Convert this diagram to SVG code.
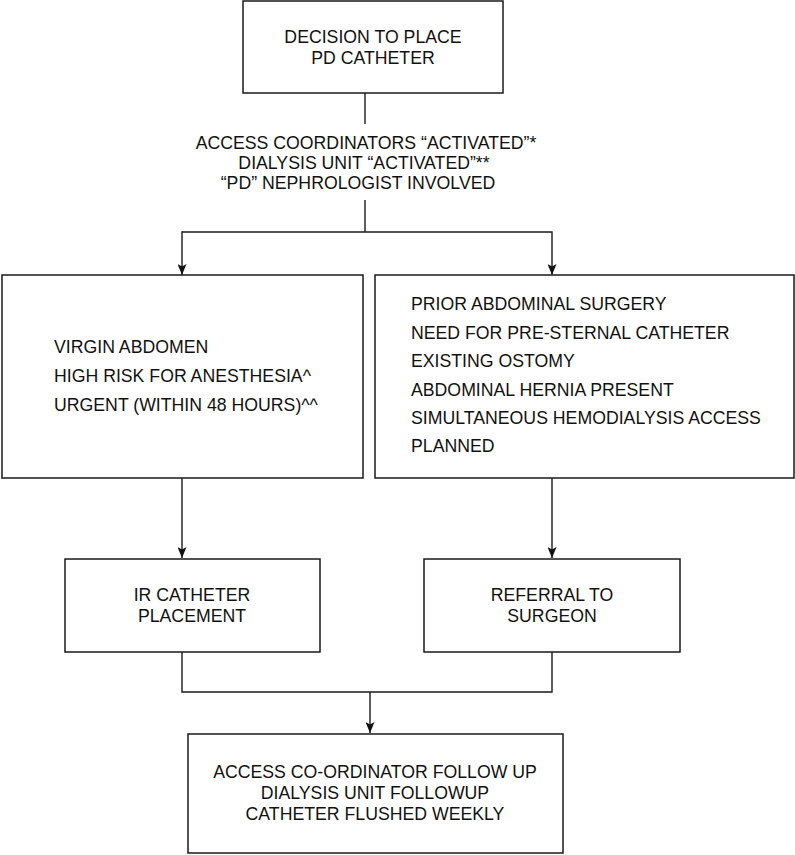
<svg xmlns="http://www.w3.org/2000/svg" width="795" height="855" viewBox="0 0 795 855">
  <style>
    .box { fill: #ffffff; stroke: #1a1a1a; stroke-width: 1.5; }
    .conn { fill: none; stroke: #1a1a1a; stroke-width: 1.4; }
    .t { font-family: "Liberation Sans", Arial, Helvetica, sans-serif; font-size: 17.7px; fill: #111111; }
    .c { text-anchor: middle; }
  </style>
  <defs>
    <marker id="arrow" markerUnits="userSpaceOnUse" viewBox="0 0 11 9" refX="11" refY="4.5" markerWidth="11" markerHeight="9" orient="auto">
      <path d="M0,0 L11,4.5 L0,9 L2.5,4.5 Z" fill="#111111"/>
    </marker>
  </defs>
  <rect width="795" height="855" fill="#ffffff"/>

  <g id="connectors">
    <line class="conn" x1="365" y1="93" x2="365" y2="124"/>
    <line class="conn" x1="365" y1="200" x2="365" y2="232"/>
    <polyline class="conn" points="182,232 552,232 552,275" marker-end="url(#arrow)"/>
    <line class="conn" x1="182" y1="231.3" x2="182" y2="275" marker-end="url(#arrow)"/>
    <line class="conn" x1="182" y1="478" x2="182" y2="558" marker-end="url(#arrow)"/>
    <line class="conn" x1="552" y1="478" x2="552" y2="558" marker-end="url(#arrow)"/>
    <polyline class="conn" points="182,652 182,692 552,692 552,652"/>
    <line class="conn" x1="370" y1="692" x2="370" y2="733" marker-end="url(#arrow)"/>
  </g>

  <g id="decision">
    <rect class="box" x="243" y="1" width="260" height="92"/>
    <text class="t c" x="373" y="43">DECISION TO PLACE</text>
    <text class="t c" x="373" y="64">PD CATHETER</text>
  </g>

  <g id="activation">
    <text class="t c" x="366" y="149">ACCESS COORDINATORS “ACTIVATED”*</text>
    <text class="t c" x="364" y="169">DIALYSIS UNIT “ACTIVATED”**</text>
    <text class="t c" x="358" y="189">“PD” NEPHROLOGIST INVOLVED</text>
  </g>

  <g id="virgin">
    <rect class="box" x="2" y="275" width="361" height="203"/>
    <text class="t" x="54" y="353">VIRGIN ABDOMEN</text>
    <text class="t" x="54" y="382">HIGH RISK FOR ANESTHESIA^</text>
    <text class="t" x="54" y="411">URGENT (WITHIN 48 HOURS)^^</text>
  </g>

  <g id="prior">
    <rect class="box" x="375" y="275" width="419" height="203"/>
    <text class="t" x="411" y="310">PRIOR ABDOMINAL SURGERY</text>
    <text class="t" x="411" y="338.5">NEED FOR PRE-STERNAL CATHETER</text>
    <text class="t" x="411" y="367">EXISTING OSTOMY</text>
    <text class="t" x="411" y="395.5">ABDOMINAL HERNIA PRESENT</text>
    <text class="t" x="411" y="424">SIMULTANEOUS HEMODIALYSIS ACCESS</text>
    <text class="t" x="411" y="452">PLANNED</text>
  </g>

  <g id="ir">
    <rect class="box" x="65" y="559" width="255" height="93"/>
    <text class="t c" x="192" y="601">IR CATHETER</text>
    <text class="t c" x="192" y="622">PLACEMENT</text>
  </g>

  <g id="referral">
    <rect class="box" x="424" y="559" width="256" height="93"/>
    <text class="t c" x="552" y="601">REFERRAL TO</text>
    <text class="t c" x="552" y="622">SURGEON</text>
  </g>

  <g id="followup">
    <rect class="box" x="188" y="734" width="375" height="119"/>
    <text class="t c" x="375" y="778">ACCESS CO-ORDINATOR FOLLOW UP</text>
    <text class="t c" x="375" y="799">DIALYSIS UNIT FOLLOWUP</text>
    <text class="t c" x="375" y="820">CATHETER FLUSHED WEEKLY</text>
  </g>
</svg>
